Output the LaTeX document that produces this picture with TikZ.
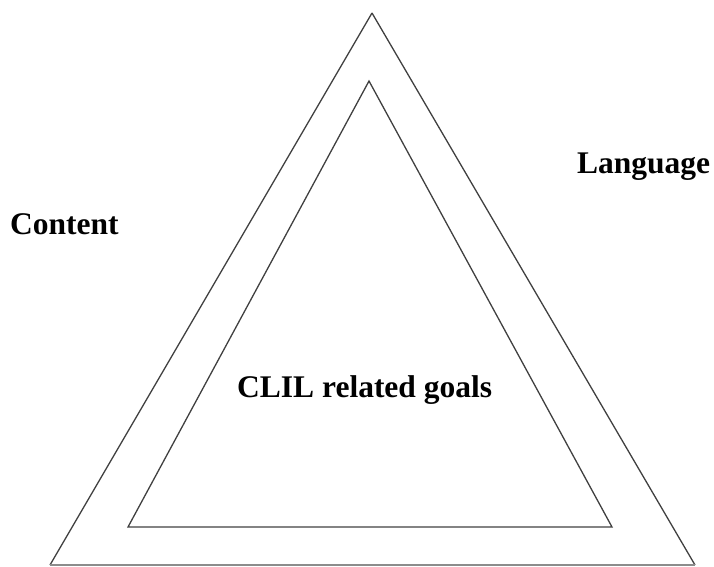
\documentclass[tikz,border=0pt]{standalone}
\usepackage{fontspec}
\setmainfont{Liberation Serif}
\usetikzlibrary{positioning}

\begin{document}
\begin{tikzpicture}[x=1pt, y=-1pt]
			\tikzset{edgeline/.style={draw=black!75, line width=1.3pt, line join=miter}, label/.style={font=\fontsize{31.5}{36}\selectfont\bfseries, inner sep=0pt, anchor=base west}}

			\useasboundingbox (0,0) rectangle (714,566);

			% outer triangle
			\coordinate (o1) at (372,13);
			\coordinate (o2) at (50,565);
			\coordinate (o3) at (695,565);
			% inner triangle
			\coordinate (i1) at (369,81);
			\coordinate (i2) at (128,527);
			\coordinate (i3) at (612,527);

			\draw[edgeline] (o1) -- (o3);
			\draw[edgeline] (o1) -- (o2);
			\draw[draw=black!45, line width=1.3pt] (o2) -- (o3);
			\draw[edgeline] (i1) -- (i2) -- (i3) -- cycle;

			\node[label] (content) at (10,234) {Content};
			\node[label] (language) at (577,173) {Language};
			\node[label] (goals) at (237,397) {CLIL related goals};
\end{tikzpicture}
\end{document}
